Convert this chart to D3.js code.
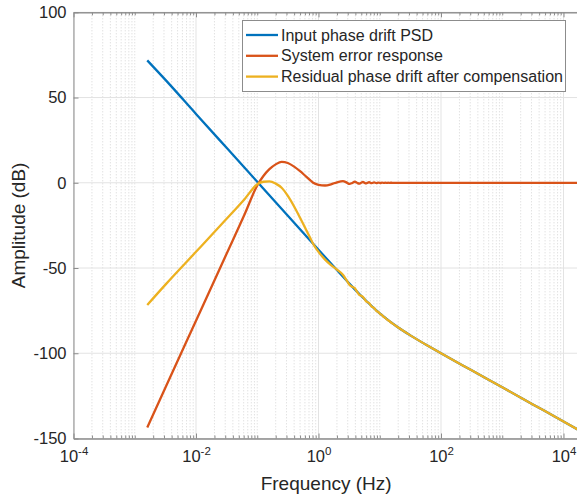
<!DOCTYPE html>
<html>
<head>
<meta charset="utf-8">
<script src="https://cdn.jsdelivr.net/npm/d3@7"></script>
<style>
  body { margin: 0; background: #fff; }
  text { font-family: "Liberation Sans", Arial, Helvetica, sans-serif; fill: #262626; }
</style>
</head>
<body>
<div id="container"></div>
<script>
// values (frequency in Hz, amplitude in dB)
const inputFreq = [0.0016, 0.0032, 0.01, 0.0316, 0.1, 0.316, 1, 2, 3.16, 5, 10, 20, 31.6, 63, 100, 316, 1000, 3162, 10000, 17000];
const inputDb   = [71.8, 60.2, 40.4, 20.5, 0.6, -19.3, -39.3, -51.2, -59.0, -66.4, -76.6, -84.9, -89.5, -95.9, -100, -110, -120, -130, -140, -144.7];

const errorFreq = [0.0016, 0.0032, 0.01, 0.0316, 0.063, 0.1, 0.126, 0.158, 0.2, 0.25, 0.316, 0.4, 0.5, 0.63, 0.73, 0.82, 1.0, 1.28, 1.6, 2.0, 2.5,
  2.9, 3.2, 3.55, 3.9, 4.25, 4.6, 4.95, 5.3, 6.0, 6.7, 7.4, 8.1, 8.8, 9.5, 10.2, 10.9, 11.6, 12.3, 13, 13.7, 14.4, 15.1, 16, 100, 1000, 17000];
const errorDb   = [-143.5, -119.8, -80.9, -41.6, -18.0, -1.5, 4.0, 8.0, 10.8, 12.3, 11.6, 9.5, 6.8, 3.6, 1.6, 0.0, -1.2, -1.6, -0.9, 0.3, 1.0,
  0.1, -0.7, -0.1, 0.6, 0.0, -0.5, 0.0, 0.45, -0.35, 0.3, -0.25, 0.2, -0.17, 0.14, -0.12, 0.1, -0.08, 0.07, -0.06, 0.05, -0.04, 0.03, 0, 0, 0, 0];

const residualFreq = [0.0016, 0.0032, 0.01, 0.0316, 0.063, 0.1, 0.126, 0.158, 0.2, 0.25, 0.316, 0.4, 0.5, 0.63, 0.73, 0.82, 1.0, 1.28, 1.6, 2.0, 2.5,
  2.9, 3.2, 3.55, 3.9, 4.25, 4.6, 4.95, 5.3, 6.0, 6.7, 7.4, 8.1, 8.8, 9.5, 10.2, 10.9, 11.6, 12.3, 13, 13.7, 14.4, 15.1, 16, 20, 31.6, 63, 100, 316, 1000, 3162, 10000, 17000];
const residualDb   = [-71.7, -59.6, -40.5, -21.1, -9.3, -0.9, 0.6, 0.8, -0.5, -2.9, -7.7, -13.9, -20.5, -27.7, -32.2, -35.9, -40.5, -45.1, -48.3, -50.9, -54.0,
  -57.4, -59.8, -61.0, -61.8, -63.8, -65.6, -66.3, -66.9, -69.6, -70.6, -72.6, -73.5, -75.1, -75.8, -77.0, -77.6, -78.7, -79.2, -80.1, -80.6, -81.2, -81.8, -82.5, -84.9, -89.5, -95.9, -100, -110, -120, -130, -140, -144.7];

const xTickExp = [-4, -2, 0, 2, 4];
const yTicks = [-150, -100, -50, 0, 50, 100];
const seriesNames = ["Input phase drift PSD", "System error response", "Residual phase drift after compensation"];
const seriesColors = ["#0072BD", "#D95319", "#EDB120"];

const w = 577;
const h = 499;
const plotLeft = 73.5, plotTop = 12.3, plotBottom = 438.5;
const decade = 61.25;
const plotRight = plotLeft + 8.25 * decade;

const svg = d3.select("#container")
  .append("svg")
  .attr("width", w)
  .attr("height", h);

const xScale = d3.scaleLog()
  .domain([1e-4, Math.pow(10, 4.25)])
  .range([plotLeft, plotRight]);

const yScale = d3.scaleLinear()
  .domain([-150, 100])
  .range([plotBottom, plotTop]);

// minor positions: 1..9 x 10^k, leaving out the labelled decades
const majorX = xTickExp.map((e) => Math.pow(10, e));
const minorX = [];
for (let k = -4; k <= 4; k++) {
  for (let m = 1; m <= 9; m++) {
    const v = m * Math.pow(10, k);
    if (v < xScale.domain()[1] && !(m === 1 && xTickExp.includes(k))) minorX.push(v);
  }
}

// grid
svg.append("g")
  .selectAll("line")
  .data(minorX)
  .enter()
  .append("line")
  .attr("x1", (d) => xScale(d))
  .attr("x2", (d) => xScale(d))
  .attr("y1", plotTop)
  .attr("y2", plotBottom)
  .attr("stroke", "#cccccc")
  .attr("stroke-width", 0.8)
  .attr("stroke-dasharray", "1,2");

svg.append("g")
  .selectAll("line")
  .data(majorX)
  .enter()
  .append("line")
  .attr("x1", (d) => xScale(d))
  .attr("x2", (d) => xScale(d))
  .attr("y1", plotTop)
  .attr("y2", plotBottom)
  .attr("stroke", "#e3e3e3");

svg.append("g")
  .selectAll("line")
  .data(yTicks)
  .enter()
  .append("line")
  .attr("x1", plotLeft)
  .attr("x2", plotRight)
  .attr("y1", (d) => yScale(d))
  .attr("y2", (d) => yScale(d))
  .attr("stroke", "#e3e3e3");

// curves
svg.append("clipPath")
  .attr("id", "plotclip")
  .append("rect")
  .attr("x", plotLeft)
  .attr("y", plotTop)
  .attr("width", plotRight - plotLeft)
  .attr("height", plotBottom - plotTop);

const line = d3.line()
  .x((d) => xScale(d[0]))
  .y((d) => yScale(d[1]))
  .curve(d3.curveMonotoneX);

const series = [
  d3.zip(inputFreq, inputDb),
  d3.zip(errorFreq, errorDb),
  d3.zip(residualFreq, residualDb)
];

svg.append("g")
  .attr("clip-path", "url(#plotclip)")
  .selectAll("path")
  .data(series)
  .enter()
  .append("path")
  .attr("d", line)
  .attr("fill", "none")
  .attr("stroke", (d, i) => seriesColors[i])
  .attr("stroke-width", 2.3);

// axes
const xAxis = svg.append("g")
  .attr("transform", "translate(0," + plotBottom + ")")
  .call(d3.axisBottom(xScale).tickValues(majorX).tickSizeInner(-5).tickSizeOuter(0).tickPadding(12));

xAxis.selectAll(".tick text")
  .style("font-size", "16.5px")
  .each(function (d, i) {
    const t = d3.select(this);
    t.text("10");
    t.append("tspan")
      .attr("dy", "-7")
      .style("font-size", "11.5px")
      .text(xTickExp[i] < 0 ? "-" + Math.abs(xTickExp[i]) : xTickExp[i]);
  });

svg.append("g")
  .attr("transform", "translate(0," + plotBottom + ")")
  .call(d3.axisBottom(xScale).tickValues(minorX).tickFormat("").tickSizeInner(-3).tickSizeOuter(0));

svg.append("g")
  .attr("transform", "translate(0," + plotTop + ")")
  .call(d3.axisTop(xScale).tickValues(majorX).tickFormat("").tickSizeInner(-5).tickSizeOuter(0));

svg.append("g")
  .attr("transform", "translate(0," + plotTop + ")")
  .call(d3.axisTop(xScale).tickValues(minorX).tickFormat("").tickSizeInner(-3).tickSizeOuter(0));

const yAxis = svg.append("g")
  .attr("transform", "translate(" + plotLeft + ",0)")
  .call(d3.axisLeft(yScale).tickValues(yTicks).tickFormat((d) => String(d)).tickSizeInner(-5).tickSizeOuter(0).tickPadding(7));

yAxis.selectAll(".tick text").style("font-size", "16.5px");

svg.selectAll(".domain").attr("stroke", "#8c8c8c");
svg.selectAll(".tick line").attr("stroke", "#8c8c8c");

// axis labels
svg.append("text")
  .attr("x", (plotLeft + plotRight) / 2)
  .attr("y", 490)
  .attr("text-anchor", "middle")
  .style("font-size", "19px")
  .text("Frequency (Hz)");

svg.append("text")
  .attr("transform", "translate(25," + (plotTop + plotBottom) / 2 + ") rotate(-90)")
  .attr("text-anchor", "middle")
  .style("font-size", "19px")
  .text("Amplitude (dB)");

// legend
const legend = svg.append("g");
legend.append("rect")
  .attr("x", 242.5)
  .attr("y", 20.5)
  .attr("width", 323)
  .attr("height", 71)
  .attr("fill", "#fff")
  .attr("stroke", "#8c8c8c");

seriesNames.forEach((name, i) => {
  const cy = 35 + i * 20.8;
  legend.append("line")
    .attr("x1", 246)
    .attr("x2", 278)
    .attr("y1", cy)
    .attr("y2", cy)
    .attr("stroke", seriesColors[i])
    .attr("stroke-width", 2.3);
  legend.append("text")
    .attr("x", 281)
    .attr("y", cy)
    .attr("dy", "0.35em")
    .style("font-size", "16px")
    .text(name);
});
</script>
</body>
</html>
